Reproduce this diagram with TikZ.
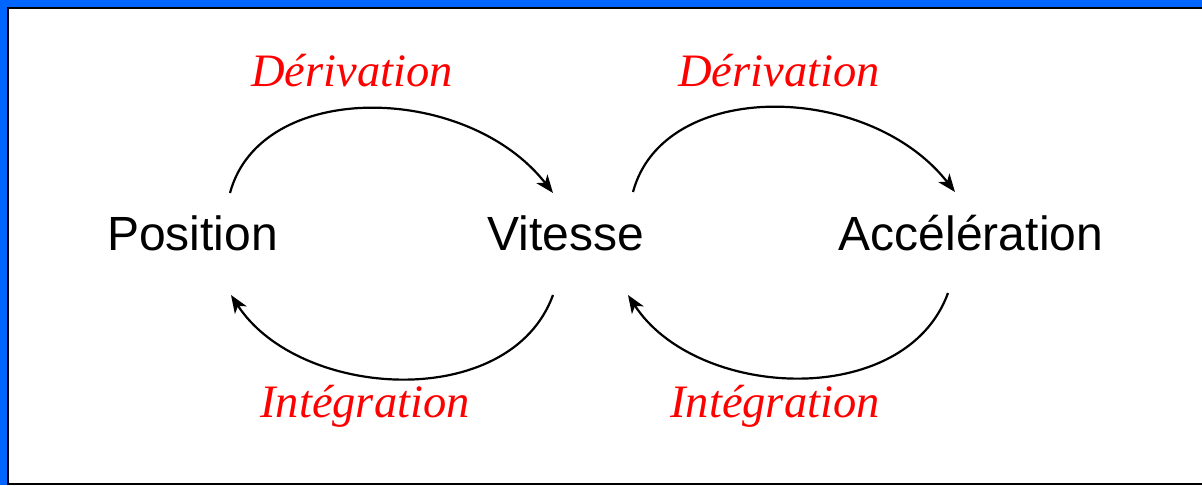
\documentclass[tikz,border=0pt]{standalone}
\usepackage{fontspec}
\setmainfont{Liberation Sans}
\newfontfamily\labelfont{Liberation Serif}
\usetikzlibrary{arrows.meta}
\definecolor{frameblue}{RGB}{0,102,255}
\tikzset{
  term/.style={inner sep=0pt, anchor=base, font=\fontsize{48}{56}\selectfont},
  oplabel/.style={inner sep=0pt, anchor=base, text=red, font=\labelfont\itshape\fontsize{46.5}{54}\selectfont},
  link/.style={line width=2.2pt, -{Stealth[length=18pt,width=14pt,inset=5pt]}}
}
\begin{document}
\begin{tikzpicture}[x=1pt,y=1pt]
\useasboundingbox (0,0) rectangle (1202,485);
\fill[frameblue] (0,0) rectangle (1202,485);
\filldraw[fill=white, draw=black, line width=2pt] (8,1) rectangle (1215,477);
\node[term] (pos) at (192.5,234) {Position};
\node[term] (vit) at (566,234) {Vitesse};
\node[term] (acc) at (971,234) {Accélération};
\node[oplabel] (d1) at (352,398) {Dérivation};
\node[oplabel] (d2) at (779,398) {Dérivation};
\node[oplabel] (i1) at (365,68) {Intégration};
\node[oplabel] (i2) at (775,68) {Intégration};
\draw[link] ([shift={(37.5,58)}]pos.base) to[out=75,in=128,out distance=118,in distance=140] ([shift={(-13,58)}]vit.base);
\draw[link] ([shift={(67,59)}]vit.base) to[out=75,in=128,out distance=118,in distance=140] ([shift={(-16,59)}]acc.base);
\draw[link] ([shift={(-13,-44)}]vit.base) to[out=-110,in=-57,out distance=125,in distance=125] ([shift={(38.5,-44)}]pos.base);
\draw[link] ([shift={(-23,-42)}]acc.base) to[out=-110,in=-57,out distance=125,in distance=125] ([shift={(62,-44)}]vit.base);
\end{tikzpicture}
\end{document}
